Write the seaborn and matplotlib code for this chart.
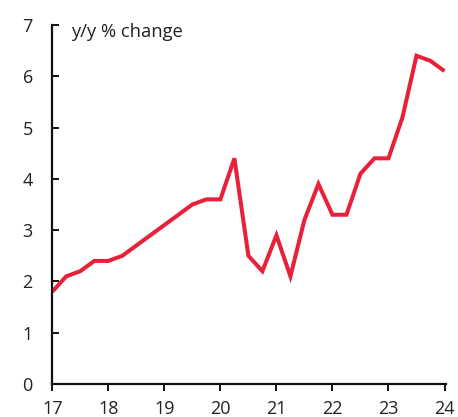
import matplotlib
matplotlib.use("Agg")
import matplotlib.pyplot as plt
import seaborn as sns
import pandas as pd
import numpy as np

sns.set_theme(style="white")
plt.rcParams['font.family'] = ['Open Sans', 'DejaVu Sans']

quarters = [17 + i / 4 for i in range(29)]
values = [1.8, 2.1, 2.2, 2.4, 2.4, 2.5, 2.7, 2.9, 3.1, 3.3, 3.5, 3.6, 3.6,
          4.4, 2.5, 2.2, 2.9, 2.1, 3.2, 3.9, 3.3, 3.3, 4.1, 4.4, 4.4,
          5.2, 6.4, 6.3, 6.1]
year_ticks = [17, 18, 19, 20, 21, 22, 23, 24]
year_labels = ["17", "18", "19", "20", "21", "22", "23", "24"]
y_ticks = [0, 1, 2, 3, 4, 5, 6, 7]

df = pd.DataFrame({"x": quarters, "y": values})

fig = plt.figure(figsize=(4.58, 4.17), dpi=100)
ax = fig.add_axes([0.1142, 0.0791, 0.860, 0.861])
sns.lineplot(data=df, x="x", y="y", ax=ax, color="#E8203A", linewidth=2.9,
             solid_joinstyle="miter", solid_capstyle="butt")

ax.set_xlim(17, 24.03)
ax.set_ylim(0, 7)
ax.set_xticks(year_ticks)
ax.set_xticklabels(year_labels)
ax.set_yticks(y_ticks)
ax.set_xlabel("")
ax.set_ylabel("")
for s in ["top", "right"]:
    ax.spines[s].set_visible(False)
for s in ["left", "bottom"]:
    ax.spines[s].set_linewidth(1.6)
    ax.spines[s].set_color("#111111")
    ax.spines[s].set_capstyle("projecting")
ax.tick_params(axis="y", direction="in", length=5, width=1.4, color="#111111",
               labelsize=13, labelcolor="#222222", pad=14, left=True)
ax.tick_params(axis="x", direction="out", length=5, width=1.4, color="#111111",
               labelsize=13, labelcolor="#222222", pad=6.5, bottom=True)
ax.text(0.047, 0.9666, "y/y % change", transform=ax.transAxes, fontsize=13.2,
        color="#222222", va="baseline", ha="left")

fig.savefig("out.png", dpi=100)
